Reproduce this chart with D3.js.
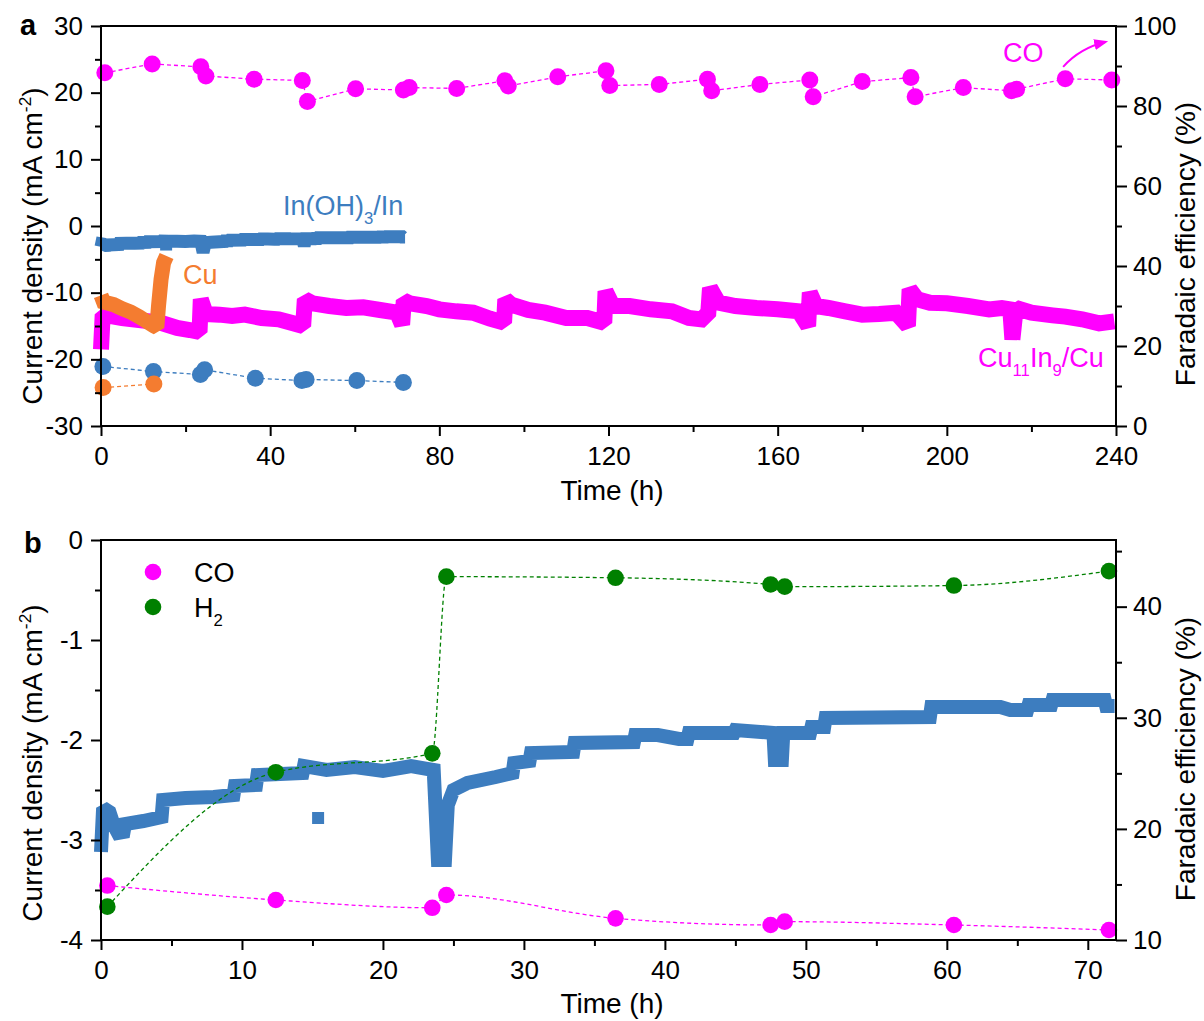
<!DOCTYPE html>
<html><head><meta charset="utf-8">
<script src="https://cdn.jsdelivr.net/npm/d3@7"></script>
<style>body{margin:0;background:#fff}svg{display:block}text{font-family:"Liberation Sans",Arial,Helvetica,sans-serif;fill:#000}</style>
</head><body><svg id="c" width="1204" height="1021"></svg>
<script>
// ---------------- DATA ----------------
// Panel a: Cu11In9/Cu current density (mA cm-2) vs time (h)
const cuInTime = [0,0.4,5,10,14,18,21,23.3,23.6,24.8,28,31,34,38,42,45,47.8,48.2,50,54,58,62,66,70,71.2,71.6,73,77,80,84,88,92,95.3,95.6,97,101,105,110,115,119,119.3,121,125,130,135,139,142,143.6,144,146,150,155,160,165,167.2,167.6,169,172,176,180,184,188,190.8,191.2,193,196,200,205,210,213,215,215.5,216.3,220,225,228,232,236,239.6];
const cuInCurrent = [-18.5,-13.3,-13.8,-14.2,-14.5,-15.3,-15.6,-15.9,-11.0,-13.2,-13.3,-13.5,-13.3,-13.8,-14.0,-14.5,-15.0,-11.0,-11.6,-12.0,-12.3,-12.2,-12.6,-13.0,-14.8,-11.2,-11.6,-12.0,-12.5,-12.8,-13.0,-13.9,-14.5,-11.0,-11.8,-12.6,-13.0,-13.8,-13.8,-14.5,-9.8,-12.0,-12.0,-12.5,-12.8,-13.8,-14.0,-13.0,-9.3,-11.5,-12.0,-12.3,-12.5,-12.8,-15.0,-10.0,-12.0,-12.3,-12.8,-13.3,-13.2,-13.0,-15.0,-9.5,-11.0,-11.5,-11.6,-12.0,-12.5,-12.3,-12.5,-17.0,-12.3,-13.0,-13.4,-13.6,-14.0,-14.6,-14.3];
// Panel a: Cu current density
const cuTime = [0,0.6,3,5,7,9,11,12.5,13.2,13.6,14.2,14.8,15.5];
const cuCurrent = [-10.4,-11.4,-11.8,-12.4,-12.9,-13.6,-14.4,-15.0,-15.2,-12.0,-8.0,-5.5,-4.5];
// In(OH)3/In current density (panels a and b)
const inTime = [0,0.15,0.6,0.9,1.2,1.6,1.7,3.0,4.3,4.4,6,8,9.4,9.5,11.0,11.1,14.3,14.4,16,18,20,22,23.6,23.9,24.4,24.6,25,26,28,29.2,29.3,30.4,30.5,33.5,33.6,37.8,37.9,39.5,41,41.6,41.7,44.9,45,47.7,47.8,48.3,48.4,50.3,50.4,51.3,51.4,58.8,58.9,63.8,64.5,65.7,65.8,67.4,67.5,71.2,71.3,71.9];
const inCurrent = [-3.12,-2.68,-2.72,-2.85,-2.93,-2.92,-2.84,-2.81,-2.77,-2.6,-2.58,-2.57,-2.55,-2.46,-2.45,-2.35,-2.33,-2.26,-2.3,-2.27,-2.31,-2.26,-2.3,-3.2,-3.2,-2.65,-2.5,-2.43,-2.37,-2.33,-2.23,-2.21,-2.13,-2.12,-2.03,-2.02,-1.95,-1.95,-1.99,-1.99,-1.93,-1.93,-1.9,-1.93,-2.2,-2.2,-1.93,-1.93,-1.87,-1.87,-1.78,-1.77,-1.67,-1.67,-1.7,-1.7,-1.65,-1.65,-1.6,-1.6,-1.66,-1.66];
const inOutlierTime = [15.4];
const inOutlierCurrent = [-2.78];
// Faradaic efficiencies (%)
const cuInFETime = [0.9,12.1,23.6,24.8,36.2,47.6,48.8,60.2,71.5,72.9,84.1,95.5,96.3,108.0,119.4,120.3,132.0,143.4,144.4,155.8,167.6,168.4,180.0,191.5,192.5,203.9,215.3,216.5,228.0,239.0];
const cuInFECO = [88.3,90.5,89.8,87.5,86.7,86.4,81.1,84.3,84.0,84.6,84.4,86.3,85.0,87.3,88.8,85.1,85.4,86.7,83.8,85.4,86.5,82.3,86.1,87.1,82.3,84.6,83.8,84.2,86.8,86.5];
const inFETime = [0.45,12.4,23.5,24.5,36.5,47.5,48.5,60.5,71.5];
const inFECO = [14.9,13.6,12.9,14.05,11.95,11.35,11.65,11.35,10.9];
const inFEH2 = [13.0,25.1,26.8,42.7,42.6,42.0,41.8,41.9,43.2];
const cuFETime = [0.5,12.5];
const cuFECO = [9.6,10.5];
// Axis ticks
const aXTicks = [0,40,80,120,160,200,240];
const aYLTicks = [-30,-20,-10,0,10,20,30];
const aYRTicks = [0,20,40,60,80,100];
const bXTicks = [0,10,20,30,40,50,60,70];
const bYLTicks = [-4,-3,-2,-1,0];
const bYRTicks = [10,20,30,40];

// ---------------- DRAW ----------------
const svg = d3.select("#c");
const cMag = "#ff00ff", cBlue = "#3d7dbf", cOrange = "#f47c30", cGreen = "#008000";
const TICKFS = 26, TITLEFS = 28;

function zip(a, b) { return a.map((v, i) => [v, b[i]]); }

function richText(sel, parts, fs) {
  let shift = 0;
  parts.forEach(([t, k]) => {
    const target = k === 'sub' ? fs * 0.32 : k === 'sup' ? -fs * 0.4 : 0;
    sel.append('tspan').attr('dy', target - shift).attr('font-size', k === 'n' ? fs : fs * 0.62).text(t);
    shift = target;
  });
}

function axes(g, x, yL, yR, xT, xMin, yLT, yLMin, yRT, yRMin) {
  const [x0, x1] = x.range(), [y0, y1] = yL.range();
  const fmt = d => String(d);
  const style = s => {
    s.select(".domain").remove();
    s.selectAll("line").attr("stroke", "#000").attr("stroke-width", 2);
    s.selectAll("text").attr("font-size", TICKFS).attr("fill", "#000")
      .attr("font-family", '"Liberation Sans",Arial,sans-serif');
  };
  g.append("g").attr("transform", `translate(0,${y0})`).call(d3.axisBottom(x).tickValues(xMin).tickSize(6).tickFormat("")).call(style);
  g.append("g").attr("transform", `translate(0,${y0})`).call(d3.axisBottom(x).tickValues(xT).tickSize(10).tickPadding(11).tickFormat(fmt)).call(style);
  g.append("g").attr("transform", `translate(${x0},0)`).call(d3.axisLeft(yL).tickValues(yLMin).tickSize(6).tickFormat("")).call(style);
  g.append("g").attr("transform", `translate(${x0},0)`).call(d3.axisLeft(yL).tickValues(yLT).tickSize(10).tickPadding(8).tickFormat(fmt)).call(style);
  g.append("g").attr("transform", `translate(${x1},0)`).call(d3.axisRight(yR).tickValues(yRMin).tickSize(6).tickFormat("")).call(style);
  g.append("g").attr("transform", `translate(${x1},0)`).call(d3.axisRight(yR).tickValues(yRT).tickSize(11).tickPadding(6).tickFormat(fmt)).call(style);
  g.append("rect").attr("x", x0).attr("y", y1).attr("width", x1 - x0).attr("height", y0 - y1)
    .attr("fill", "none").attr("stroke", "#000").attr("stroke-width", 2);
}

function band(g, x, y, data, color, w) {
  g.append("path").datum(data)
    .attr("d", d3.line().x(d => x(d[0])).y(d => y(d[1])))
    .attr("fill", "none").attr("stroke", color).attr("stroke-width", w)
    .attr("stroke-linejoin", "miter").attr("stroke-miterlimit", 1.5).attr("stroke-linecap", "butt");
}
function dashed(g, x, y, data, color, curve) {
  g.append("path").datum(data)
    .attr("d", d3.line().curve(curve || d3.curveLinear).x(d => x(d[0])).y(d => y(d[1])))
    .attr("fill", "none").attr("stroke", color).attr("stroke-width", 1.3).attr("stroke-dasharray", "4,3");
}
function dots(g, x, y, data, color, r) {
  g.append("g").selectAll("circle").data(data).join("circle")
    .attr("cx", d => x(d[0])).attr("cy", d => y(d[1])).attr("r", r).attr("fill", color);
}
function squares(g, x, y, data, color, s) {
  g.append("g").selectAll("rect").data(data).join("rect")
    .attr("x", d => x(d[0]) - s / 2).attr("y", d => y(d[1]) - s / 2).attr("width", s).attr("height", s).attr("fill", color);
}

// ===== Panel a =====
const ax = d3.scaleLinear().domain([0, 240]).range([101, 1116]);
const ayL = d3.scaleLinear().domain([-30, 30]).range([426, 26]);
const ayR = d3.scaleLinear().domain([0, 100]).range([426, 26]);
const ga = svg.append("g");

band(ga, ax, ayL, zip(cuInTime, cuInCurrent), cMag, 16);
band(ga, ax, ayL, zip(cuTime, cuCurrent), cOrange, 15);
band(ga, ax, ayL, zip(inTime, inCurrent), cBlue, 13);
squares(ga, ax, ayL, zip(inOutlierTime, inOutlierCurrent), cBlue, 12);

dashed(ga, ax, ayR, zip(cuInFETime, cuInFECO), cMag);
dashed(ga, ax, ayR, zip(inFETime, inFECO), cBlue);
dashed(ga, ax, ayR, zip(cuFETime, cuFECO), cOrange);
dots(ga, ax, ayR, zip(cuInFETime, cuInFECO), cMag, 8.5);
dots(ga, ax, ayR, zip(inFETime, inFECO), cBlue, 8.5);
dots(ga, ax, ayR, zip(cuFETime, cuFECO), cOrange, 8.5);

axes(ga, ax, ayL, ayR, aXTicks, d3.range(20, 240, 40), aYLTicks, d3.range(-25, 30, 10), aYRTicks, d3.range(10, 100, 20));

// annotations panel a
richText(ga.append("text").attr("x", 283).attr("y", 215).style("fill", cBlue),
  [["In(OH)", "n"], ["3", "sub"], ["/In", "n"]], 27);
ga.append("text").attr("x", 183).attr("y", 284).attr("font-size", 27).style("fill", cOrange).text("Cu");
richText(ga.append("text").attr("x", 978).attr("y", 367).style("fill", cMag),
  [["Cu", "n"], ["11", "sub"], ["In", "n"], ["9", "sub"], ["/Cu", "n"]], 27);
ga.append("text").attr("x", 1003).attr("y", 62).attr("font-size", 27).style("fill", cMag).text("CO");
// arrow
const defs = svg.append("defs");
defs.append("marker").attr("id", "ah").attr("viewBox", "0 0 10 10").attr("refX", 8).attr("refY", 5)
  .attr("markerWidth", 7).attr("markerHeight", 7).attr("orient", "auto")
  .append("path").attr("d", "M0,1 L10,5 L0,9 Z").attr("fill", cMag);
{
  const p = d3.path();
  p.moveTo(ax(227.5), ayR(89.8));
  p.quadraticCurveTo(ax(231.5), ayR(94.5), ax(237.5), ayR(96));
  ga.append("path").attr("d", p.toString()).attr("fill", "none").attr("stroke", cMag)
    .attr("stroke-width", 2).attr("marker-end", "url(#ah)");
}
// titles panel a
ga.append("text").attr("x", 612).attr("y", 500).attr("text-anchor", "middle").attr("font-size", TITLEFS).text("Time (h)");
richText(ga.append("text").attr("transform", "translate(42,246) rotate(-90)").attr("text-anchor", "middle"),
  [["Current density (mA cm", "n"], ["-2", "sup"], [")", "n"]], TITLEFS);
ga.append("text").attr("transform", "translate(1195,244) rotate(-90)").attr("text-anchor", "middle")
  .attr("font-size", TITLEFS).text("Faradaic efficiency (%)");
ga.append("text").attr("x", 20).attr("y", 35).attr("font-size", 29).attr("font-weight", "bold").text("a");

// ===== Panel b =====
const bx = d3.scaleLinear().domain([0, 72]).range([101, 1116]);
const byL = d3.scaleLinear().domain([-4, 0]).range([940, 540]);
const byR = d3.scaleLinear().domain([10, 46]).range([940, 540]);
const gb = svg.append("g");

band(gb, bx, byL, zip(inTime, inCurrent), cBlue, 14);
squares(gb, bx, byL, zip(inOutlierTime, inOutlierCurrent), cBlue, 12);
dashed(gb, bx, byR, zip(inFETime, inFEH2), cGreen, d3.curveMonotoneX);
dashed(gb, bx, byR, zip(inFETime, inFECO), cMag, d3.curveMonotoneX);
dots(gb, bx, byR, zip(inFETime, inFECO), cMag, 8.3);
dots(gb, bx, byR, zip(inFETime, inFEH2), cGreen, 8.3);

axes(gb, bx, byL, byR, bXTicks, d3.range(5, 72, 10), bYLTicks, d3.range(-3.5, 0, 1), bYRTicks, d3.range(15, 46, 10));

// legend
gb.append("circle").attr("cx", 153).attr("cy", 572).attr("r", 8.3).attr("fill", cMag);
gb.append("circle").attr("cx", 153).attr("cy", 607).attr("r", 8.3).attr("fill", cGreen);
gb.append("text").attr("x", 194).attr("y", 582).attr("font-size", 27).text("CO");
richText(gb.append("text").attr("x", 194).attr("y", 617), [["H", "n"], ["2", "sub"]], 27);

gb.append("text").attr("x", 612).attr("y", 1013).attr("text-anchor", "middle").attr("font-size", TITLEFS).text("Time (h)");
richText(gb.append("text").attr("transform", "translate(42,763) rotate(-90)").attr("text-anchor", "middle"),
  [["Current density (mA cm", "n"], ["-2", "sup"], [")", "n"]], TITLEFS);
gb.append("text").attr("transform", "translate(1195,759) rotate(-90)").attr("text-anchor", "middle")
  .attr("font-size", TITLEFS).text("Faradaic efficiency (%)");
gb.append("text").attr("x", 24).attr("y", 553).attr("font-size", 29).attr("font-weight", "bold").text("b");
</script></body></html>
